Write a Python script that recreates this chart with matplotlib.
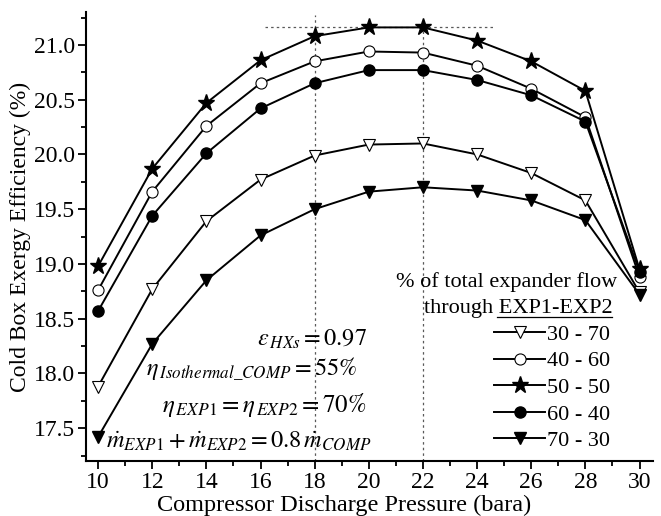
import matplotlib
matplotlib.use("Agg")
import matplotlib.pyplot as plt
from matplotlib.ticker import MultipleLocator

plt.rcParams['font.family'] = ['Liberation Serif', 'DejaVu Serif']
plt.rcParams['mathtext.fontset'] = 'stix'

# compressor discharge pressure (bara)
pressure = [10, 12, 14, 16, 18, 20, 22, 24, 26, 28, 30]

# cold box exergy efficiency (%) for each EXP1-EXP2 flow split
eff_30_70 = [17.88, 18.77, 19.39, 19.77, 19.99, 20.09, 20.10, 20.00, 19.83, 19.58, 18.74]
eff_40_60 = [18.76, 19.66, 20.26, 20.65, 20.85, 20.94, 20.93, 20.81, 20.60, 20.34, 18.88]
eff_50_50 = [18.98, 19.87, 20.47, 20.86, 21.08, 21.16, 21.16, 21.04, 20.85, 20.58, 18.95]
eff_60_40 = [18.57, 19.44, 20.01, 20.42, 20.65, 20.77, 20.77, 20.68, 20.54, 20.30, 18.93]
eff_70_30 = [17.42, 18.27, 18.85, 19.26, 19.50, 19.66, 19.70, 19.67, 19.58, 19.40, 18.72]

labels = ['30 - 70', '40 - 60', '50 - 50', '60 - 40', '70 - 30']

fig = plt.figure(figsize=(6.61, 5.16), dpi=100)
ax = fig.add_axes([0.130, 0.1066, 0.858, 0.870])

lw = 1.4
ax.plot(pressure, eff_30_70, color='black', lw=lw, marker='v', ms=8.5,
        mfc='white', mec='black', mew=0.8, label=labels[0])
ax.plot(pressure, eff_40_60, color='black', lw=lw, marker='o', ms=8,
        mfc='white', mec='black', mew=0.8, label=labels[1])
ax.plot(pressure, eff_50_50, color='black', lw=lw, marker='*', ms=12.5,
        mfc='black', mec='black', label=labels[2])
ax.plot(pressure, eff_60_40, color='black', lw=lw, marker='o', ms=8,
        mfc='black', mec='black', label=labels[3])
ax.plot(pressure, eff_70_30, color='black', lw=lw, marker='v', ms=8.5,
        mfc='black', mec='black', label=labels[4])

# dotted guide lines around the optimum
ax.plot([18, 18], [17.2, 21.27], ls=(0, (2, 2.5)), color='0.35', lw=0.9, zorder=1)
ax.plot([22, 22], [17.2, 21.16], ls=(0, (2, 2.5)), color='0.35', lw=0.9, zorder=1)
ax.plot([16.15, 24.6], [21.16, 21.16], ls=(0, (2, 2.5)), color='0.35', lw=0.9, zorder=1)

ax.set_xlim(9.55, 30.5)
ax.set_ylim(17.2, 21.3)
ax.xaxis.set_major_locator(MultipleLocator(2))
ax.xaxis.set_minor_locator(MultipleLocator(1))
ax.yaxis.set_major_locator(MultipleLocator(0.5))
ax.yaxis.set_minor_locator(MultipleLocator(0.25))
ax.yaxis.set_major_formatter(matplotlib.ticker.FormatStrFormatter('%.1f'))

for side in ['top', 'right']:
    ax.spines[side].set_visible(False)
for side in ['left', 'bottom']:
    ax.spines[side].set_linewidth(1.5)
ax.tick_params(which='major', direction='out', length=6, width=1.3, labelsize=17, pad=2)
ax.tick_params(which='minor', direction='out', length=3.5, width=1.3)

ax.set_xlabel('Compressor Discharge Pressure (bara)', fontsize=17.5)
ax.xaxis.set_label_coords(0.455, -0.075)
ax.set_ylabel('Cold Box Exergy Efficiency (%)', fontsize=17, labelpad=2)

# operating assumptions
tsz = 17.5
ax.text(0.496, 0.272, r'$\varepsilon_{\,HXs} = 0.97$', transform=ax.transAxes,
        ha='right', va='center', fontsize=tsz)
ax.text(0.478, 0.203, r'$\eta_{\,Isothermal\_COMP} = 55\%$', transform=ax.transAxes,
        ha='right', va='center', fontsize=tsz)
ax.text(0.494, 0.125, r'$\eta_{\,EXP1} = \eta_{\,EXP2} = 70\%$', transform=ax.transAxes,
        ha='right', va='center', fontsize=18)
ax.text(0.504, 0.045, r'$\dot{m}_{EXP1} + \dot{m}_{EXP2} = 0.8\,\dot{m}_{COMP}$',
        transform=ax.transAxes, ha='right', va='center', fontsize=tsz)

# legend with hand-made title
ax.text(0.937, 0.398, '% of total expander flow', transform=ax.transAxes,
        ha='right', va='center', fontsize=16)
ax.text(0.928, 0.340, 'through EXP1-EXP2', transform=ax.transAxes,
        ha='right', va='center', fontsize=16)
ax.plot([0.725, 0.928], [0.321, 0.321], transform=ax.transAxes, color='black',
        lw=0.9, clip_on=False)

ax.legend(loc='lower right', bbox_to_anchor=(0.925, 0.022), frameon=False,
          fontsize=16, handlelength=2.3, handletextpad=0.1, labelspacing=0.27,
          borderpad=0, borderaxespad=0)

fig.savefig('out.png', dpi=100)
